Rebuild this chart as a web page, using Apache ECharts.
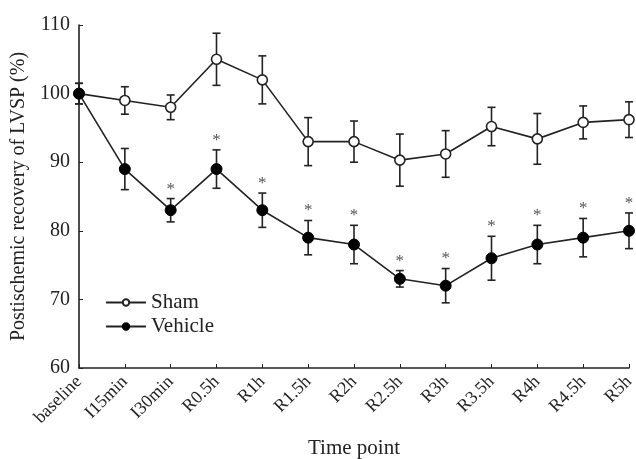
<!DOCTYPE html>
<html>
<head>
<meta charset="utf-8">
<script src="https://cdn.jsdelivr.net/npm/echarts@6/dist/echarts.min.js"></script>
<style>
  html, body { margin: 0; padding: 0; background: #fff; }
  #chart { width: 636px; height: 459px; }
</style>
</head>
<body>
<div id="chart"></div>
<script>
const timePoints = ['baseline', 'I15min', 'I30min', 'R0.5h', 'R1h', 'R1.5h', 'R2h', 'R2.5h', 'R3h', 'R3.5h', 'R4h', 'R4.5h', 'R5h']
const shamMean = [100, 99, 98, 105, 102, 93, 93, 90.3, 91.2, 95.2, 93.4, 95.8, 96.2]
const shamErr = [1.5, 2, 1.8, 3.8, 3.5, 3.5, 3, 3.8, 3.4, 2.8, 3.7, 2.4, 2.6]
const vehicleMean = [100, 89, 83, 89, 83, 79, 78, 73, 72, 76, 78, 79, 80]
const vehicleErr = [1.5, 3, 1.7, 2.8, 2.5, 2.5, 2.8, 1.2, 2.5, 3.2, 2.8, 2.8, 2.6]
const vehicleStar = [false, false, true, true, true, true, true, true, true, true, true, true, true]
const yTicks = [60, 70, 80, 90, 100, 110]

const font = '"Liberation Serif", "DejaVu Serif", serif'
const ink = '#222'

function errData(mean, err, star) {
  return mean.map((m, i) => [i, m - err[i], m + err[i], star && star[i] ? 1 : 0])
}

function renderErr(params, api) {
  const x = api.value(0)
  const lo = api.coord([x, api.value(1)])
  const hi = api.coord([x, api.value(2)])
  const cap = 4
  const children = [
    { type: 'line', shape: { x1: lo[0], y1: lo[1], x2: hi[0], y2: hi[1] }, style: { stroke: ink, lineWidth: 1.6 } },
    { type: 'line', shape: { x1: lo[0] - cap, y1: lo[1], x2: lo[0] + cap, y2: lo[1] }, style: { stroke: ink, lineWidth: 1.6 } },
    { type: 'line', shape: { x1: hi[0] - cap, y1: hi[1], x2: hi[0] + cap, y2: hi[1] }, style: { stroke: ink, lineWidth: 1.6 } }
  ]
  if (api.value(3)) {
    children.push({
      type: 'text',
      style: { text: '*', x: hi[0], y: hi[1] - 1, align: 'center', verticalAlign: 'bottom', font: '17px ' + font, fill: '#555' }
    })
  }
  return { type: 'group', children }
}

const chart = echarts.init(document.getElementById('chart'))
chart.setOption({
  animation: false,
  backgroundColor: '#fff',
  grid: { left: 79, top: 25, right: 7, bottom: 91, outerBoundsMode: 'none' },
  legend: {
    orient: 'vertical',
    left: 100,
    top: 287,
    itemWidth: 40,
    itemHeight: 8,
    itemGap: 3,
    textStyle: { fontFamily: font, fontSize: 21, color: ink },
    data: ['Sham', 'Vehicle']
  },
  xAxis: {
    type: 'category',
    data: timePoints,
    boundaryGap: false,
    name: 'Time point',
    nameLocation: 'middle',
    nameGap: 70,
    nameTextStyle: { fontFamily: font, fontSize: 21, color: ink },
    axisLine: { lineStyle: { color: ink, width: 1.6 } },
    axisTick: { inside: true, length: 4, lineStyle: { color: ink } },
    axisLabel: { rotate: 45, fontFamily: font, fontSize: 18, color: ink, margin: 11 }
  },
  yAxis: {
    type: 'value',
    min: 60,
    max: 110,
    interval: 10,
    name: 'Postischemic recovery of LVSP (%)',
    nameLocation: 'middle',
    nameGap: 50,
    nameTextStyle: { fontFamily: font, fontSize: 20, color: ink },
    axisLine: { show: true, lineStyle: { color: ink, width: 1.6 } },
    axisTick: { show: true, inside: true, length: 4, lineStyle: { color: ink } },
    axisLabel: {
      fontFamily: font, fontSize: 20, color: ink, margin: 9,
      formatter: v => yTicks.includes(v) ? String(v) : ''
    },
    splitLine: { show: false }
  },
  series: [
    {
      type: 'custom',
      name: 'shamErr',
      renderItem: renderErr,
      data: errData(shamMean, shamErr),
      z: 1
    },
    {
      type: 'custom',
      name: 'vehicleErr',
      renderItem: renderErr,
      data: errData(vehicleMean, vehicleErr, vehicleStar),
      z: 1
    },
    {
      type: 'line',
      name: 'Sham',
      data: shamMean,
      symbol: 'circle',
      symbolSize: 10,
      lineStyle: { color: ink, width: 1.6 },
      itemStyle: { color: '#fff', borderColor: ink, borderWidth: 1.6 },
      z: 3
    },
    {
      type: 'line',
      name: 'Vehicle',
      data: vehicleMean,
      symbol: 'circle',
      symbolSize: 11,
      lineStyle: { color: ink, width: 1.6 },
      itemStyle: { color: '#000', borderColor: '#000', borderWidth: 1 },
      z: 4
    }
  ]
})
</script>
</body>
</html>
